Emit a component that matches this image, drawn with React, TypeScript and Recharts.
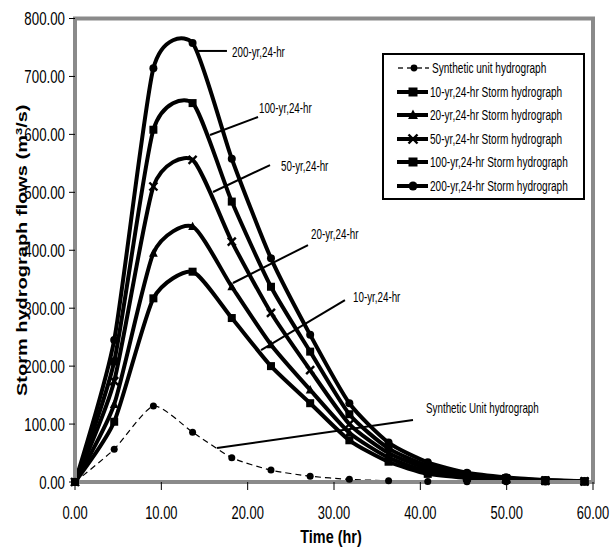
import React from 'react';
import {
  LineChart,
  Line,
  XAxis,
  YAxis,
  ReferenceLine,
  ReferenceDot,
  ReferenceArea,
  Legend,
  Label,
} from 'recharts';

// ---------- data ----------
const times = [0, 4.54, 9.08, 13.62, 18.16, 22.7, 27.24, 31.78, 36.32, 40.86, 45.4, 49.94, 54.48, 59.02];
const unitHydro = [0, 56.5, 131, 86, 42, 20.5, 10, 4.6, 2.2, 1.0, 0.5, 0.25, 0.1, 0.05];
const storm10 = [0, 104, 317, 363, 283, 200, 136, 72, 35, 14, 7, 3.5, 1.5, 0.7];
const storm20 = [0, 134, 395, 441, 337, 237, 159, 85, 42, 18, 9, 4.5, 2, 0.9];
const storm50 = [0, 174, 510, 556, 415, 292, 193, 100, 50, 23, 11, 5.5, 2.5, 1.1];
const storm100 = [0, 208, 608, 654, 484, 337, 225, 117, 58, 28, 13, 6.5, 3, 1.3];
const storm200 = [0, 245, 714, 757.6, 558, 386, 254, 136, 68, 34, 16, 8, 3.5, 1.5];

const seriesKeys = ['unit', 's10', 's20', 's50', 's100', 's200'];
const seriesNames = [
  'Synthetic unit hydrograph',
  '10-yr,24-hr Storm hydrograph',
  '20-yr,24-hr Storm hydrograph',
  '50-yr,24-hr Storm hydrograph',
  '100-yr,24-hr Storm hydrograph',
  '200-yr,24-hr Storm hydrograph',
];
const seriesMarkers = ['circle', 'square', 'triangle', 'cross', 'square', 'circle'];

const xTicks = [0, 10, 20, 30, 40, 50, 60];
const yTicks = [0, 100, 200, 300, 400, 500, 600, 700, 800];

// annotation labels (text, anchor in data units) and their leader lines
const annotationTexts = ['200-yr,24-hr', '100-yr,24-hr', '50-yr,24-hr', '20-yr,24-hr', '10-yr,24-hr', 'Synthetic Unit hydrograph'];
const annotationX = [18.19, 21.31, 23.86, 27.34, 32.2, 40.66];
const annotationY = [742, 645.5, 545.4, 428, 319.3, 127.7];
const leaderStart = [
  { x: 14.02, y: 744 },
  { x: 15.64, y: 598.9 },
  { x: 15.99, y: 500.5 },
  { x: 18.3, y: 343.5 },
  { x: 21.55, y: 227.8 },
  { x: 16.45, y: 58.7 },
];
const leaderEnd = [
  { x: 17.6, y: 744 },
  { x: 21.2, y: 630 },
  { x: 22.59, y: 547 },
  { x: 26.99, y: 409 },
  { x: 31.27, y: 314 },
  { x: 39.15, y: 107 },
];

const data = times.map((t, i) => ({
  t,
  unit: unitHydro[i],
  s10: storm10[i],
  s20: storm20[i],
  s50: storm50[i],
  s100: storm100[i],
  s200: storm200[i],
}));

// ---------- styles ----------
const FONT = '"Liberation Sans", Arial, sans-serif';
const FRAME = '#8a8a8a';

// cardinal (Excel-like smoothing) curve factory
function cardinal(tension: number) {
  const k = (1 - tension) / 6;
  return function (context: any) {
    let x0 = NaN, y0 = NaN, x1 = NaN, y1 = NaN, x2 = NaN, y2 = NaN;
    let pt = 0;
    let line: number = NaN;
    const bez = (x: number, y: number) => {
      context.bezierCurveTo(
        x1 + k * (x2 - x0),
        y1 + k * (y2 - y0),
        x2 + k * (x1 - x),
        y2 + k * (y1 - y),
        x2,
        y2,
      );
    };
    return {
      areaStart() { line = 0; },
      areaEnd() { line = NaN; },
      lineStart() {
        x0 = x1 = x2 = y0 = y1 = y2 = NaN;
        pt = 0;
      },
      lineEnd() {
        switch (pt) {
          case 2: context.lineTo(x2, y2); break;
          case 3: bez(x1, y1); break;
        }
        if (line || (line !== 0 && pt === 1)) context.closePath();
        line = 1 - line;
      },
      point(xx: number, yy: number) {
        const x = +xx, y = +yy;
        switch (pt) {
          case 0: pt = 1; line ? context.lineTo(x, y) : context.moveTo(x, y); break;
          case 1: pt = 2; x1 = x; y1 = y; break;
          case 2: pt = 3; bez(x, y); break;
          default: bez(x, y); break;
        }
        x0 = x1; x1 = x2; x2 = x;
        y0 = y1; y1 = y2; y2 = y;
      },
    };
  };
}
const smooth: any = cardinal(0.36);

const Marker = ({ shape, cx, cy, size }: { shape: string; cx: number; cy: number; size: number }) => {
  const s = size;
  if (shape === 'square') {
    return <rect x={cx - s / 2} y={cy - s / 2} width={s} height={s} fill="#000" />;
  }
  if (shape === 'triangle') {
    return (
      <polygon
        points={`${cx},${cy - s * 0.6} ${cx - s * 0.55},${cy + s * 0.45} ${cx + s * 0.55},${cy + s * 0.45}`}
        fill="#000"
      />
    );
  }
  if (shape === 'cross') {
    const h = s / 2;
    return (
      <g stroke="#000" strokeWidth={2.4}>
        <line x1={cx - h} y1={cy - h} x2={cx + h} y2={cy + h} />
        <line x1={cx - h} y1={cy + h} x2={cx + h} y2={cy - h} />
      </g>
    );
  }
  return <circle cx={cx} cy={cy} r={s / 2} fill="#000" />;
};

const makeDot = (shape: string, size: number) => (props: any) => {
  const { cx, cy, index } = props;
  if (cx == null || cy == null || Number.isNaN(cx) || Number.isNaN(cy)) return <g key={`d-${index}`} />;
  return (
    <g key={`d-${index}`}>
      <Marker shape={shape} cx={cx} cy={cy} size={size} />
    </g>
  );
};

const YTick = (p: any) => (
  <g transform={`translate(${p.x},${p.y})`}>
    <text transform="scale(0.7,1)" textAnchor="end" dy="0.35em" fontFamily={FONT} fontSize={19} fill="#000">
      {Number(p.payload.value).toFixed(2)}
    </text>
  </g>
);

const XTick = (p: any) => (
  <g transform={`translate(${p.x},${p.y})`}>
    <text transform="scale(0.68,1)" textAnchor="middle" dy="0.71em" fontFamily={FONT} fontSize={19} fill="#000">
      {Number(p.payload.value).toFixed(2)}
    </text>
  </g>
);

const renderYTitle = (p: any) => {
  const vb = p && p.viewBox && p.viewBox.height ? p.viewBox : { x: 15, y: 18.5, width: 60, height: 463.5 };
  const cx = vb.x + 7;
  const cy = vb.y + vb.height / 2;
  return (
    <g transform={`translate(${cx},${cy}) scale(0.7,1) rotate(-90)`}>
      <text x={0} y={0} textAnchor="middle" dy="0.35em" fontFamily={FONT} fontWeight="bold" fontSize={20} fill="#000">
        Storm hydrograph flows (m
        <tspan dy={-7} fontSize={13}>3</tspan>
        <tspan dy={7}>/s)</tspan>
      </text>
    </g>
  );
};

const renderXTitle = (p: any) => {
  const vb = p && p.viewBox && p.viewBox.width ? p.viewBox : { x: 75, y: 482, width: 518, height: 66 };
  const cx = vb.x + vb.width / 2 - 3;
  const cy = vb.y + 61;
  return (
    <g transform={`translate(${cx},${cy}) scale(0.76,1)`}>
      <text x={0} y={0} textAnchor="middle" fontFamily={FONT} fontWeight="bold" fontSize={19} fill="#000">
        Time (hr)
      </text>
    </g>
  );
};

const AnnotText = ({ cx, cy, text }: { cx: number; cy: number; text: string }) => (
  <g transform={`translate(${cx},${cy}) scale(0.7,1)`}>
    <text x={0} y={0} dy="0.35em" textAnchor="start" fontFamily={FONT} fontSize={14} fill="#000">
      {text}
    </text>
  </g>
);

const LegendIcon = ({ index }: { index: number }) => {
  if (index === 0) {
    return (
      <svg width={32} height={14} style={{ flex: 'none', display: 'block' }}>
        <line x1={1} y1={7} x2={6} y2={7} stroke="#000" strokeWidth={1.3} />
        <line x1={10} y1={7} x2={25} y2={7} stroke="#000" strokeWidth={1.3} />
        <line x1={28} y1={7} x2={32} y2={7} stroke="#000" strokeWidth={1.3} />
        <circle cx={17} cy={7} r={3.4} fill="#000" />
      </svg>
    );
  }
  return (
    <svg width={32} height={14} style={{ flex: 'none', display: 'block' }}>
      <line x1={0} y1={7} x2={31} y2={7} stroke="#000" strokeWidth={4} />
      <Marker shape={seriesMarkers[index]} cx={16} cy={7} size={9} />
    </svg>
  );
};

const LegendBox = () => (
  <div
    style={{
      width: 203,
      height: 147,
      boxSizing: 'border-box',
      border: '2px solid #000',
      background: '#fff',
      paddingTop: 1,
    }}
  >
    {seriesNames.map((name, i) => (
      <div key={name} style={{ height: 23.6, display: 'flex', alignItems: 'center' }}>
        <div style={{ marginLeft: 13 }}>
          <LegendIcon index={i} />
        </div>
        <span
          style={{
            fontFamily: FONT,
            fontSize: 14,
            color: '#000',
            display: 'inline-block',
            whiteSpace: 'nowrap',
            transform: 'scaleX(0.72)',
            transformOrigin: 'left center',
            marginLeft: i === 0 ? 3 : 1,
            lineHeight: '16px',
          }}
        >
          {name}
        </span>
      </div>
    ))}
  </div>
);

export default function App() {
  return (
    <div style={{ position: 'absolute', left: 0, top: 0, width: 610, height: 554, fontFamily: FONT }}>
      <LineChart
        width={610}
        height={554}
        data={data}
        margin={{ top: 18.5, right: 17, bottom: 6, left: 15 }}
      >
        <ReferenceArea x1={0} x2={60} y1={0} y2={800} fill="none" stroke={FRAME} strokeWidth={4} ifOverflow="visible" />
        <XAxis
          dataKey="t"
          type="number"
          domain={[0, 60]}
          ticks={xTicks}
          height={66}
          tickSize={8}
          tickMargin={15}
          axisLine={{ stroke: FRAME, strokeWidth: 4 }}
          tickLine={{ stroke: '#000', strokeWidth: 1 }}
          tick={<XTick />}
          interval={0}
        >
          <Label content={renderXTitle} />
        </XAxis>
        <YAxis
          type="number"
          domain={[0, 800]}
          ticks={yTicks}
          width={60}
          tickSize={6}
          tickMargin={4}
          axisLine={{ stroke: FRAME, strokeWidth: 4 }}
          tickLine={{ stroke: '#000', strokeWidth: 1 }}
          tick={<YTick />}
          interval={0}
        >
          <Label content={renderYTitle} />
        </YAxis>
        <Legend
          layout="vertical"
          align="center"
          verticalAlign="middle"
          content={() => <LegendBox />}
          wrapperStyle={{ position: 'absolute', left: 381.7, top: 53.3, width: 203, height: 147 }}
        />
        {seriesKeys.map((k, i) => (
          <Line
            key={k}
            dataKey={k}
            name={seriesNames[i]}
            type={smooth}
            stroke="#000"
            strokeWidth={i === 0 ? 1.2 : 4}
            strokeDasharray={i === 0 ? '6 4' : undefined}
            strokeLinejoin="round"
            dot={makeDot(seriesMarkers[i], i === 0 ? 7 : 8)}
            activeDot={false}
            isAnimationActive={false}
          />
        ))}
        {leaderStart.map((s, i) => (
          <ReferenceLine
            key={`lead-${i}`}
            segment={[s, leaderEnd[i]]}
            stroke="#000"
            strokeWidth={2}
            ifOverflow="visible"
          />
        ))}
        {annotationTexts.map((t, i) => (
          <ReferenceDot
            key={`ann-${i}`}
            x={annotationX[i]}
            y={annotationY[i]}
            r={0}
            ifOverflow="visible"
            shape={(p: any) => <AnnotText cx={p.cx} cy={p.cy} text={t} />}
          />
        ))}
      </LineChart>
    </div>
  );
}
